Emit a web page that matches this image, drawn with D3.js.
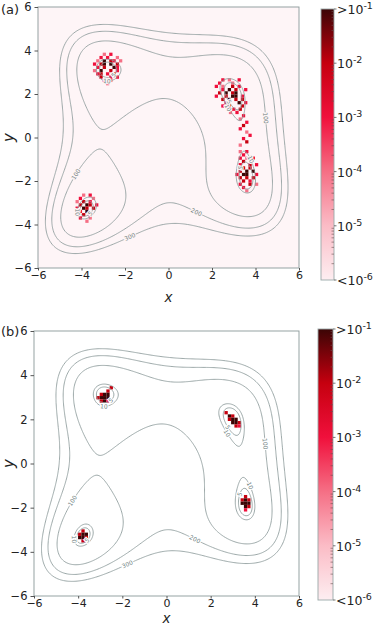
<!DOCTYPE html>
<head>
  <meta charset="utf-8">
  <script src="https://cdn.jsdelivr.net/npm/d3@7"></script>
  <style>
    body { margin:0; background:#fff; }
    text { font-family: "DejaVu Sans", sans-serif; }
  </style>
</head>
<body>
<script>
const W = 374, H = 625;

// ---- data ----------------------------------------------------------
const axisTicks = [-6, -4, -2, 0, 2, 4, 6];
const contourLevels = [5, 10, 100, 200, 300];
// [level, x, y] where matplotlib put the inline labels
const contourLabels = [
  [100, 4.52, 0.9], [100, -4.28, -1.68], [200, 1.3, -3.4], [300, -1.78, -4.55],
  [10, -2.83, 2.66], [5, -2.55, 2.9], [10, 2.78, 1.4], [5, 2.88, 1.72],
  [10, -4.08, -3.42], [5, -3.58, -3.5], [10, 3.84, -0.98], [5, 3.32, -1.4]
];
const cbTicks = [1e-6, 1e-5, 1e-4, 1e-3, 1e-2, 1e-1];
const cbLabels = [["<10", "-6"], ["10", "-5"], ["10", "-4"], ["10", "-3"], ["10", "-2"], [">10", "-1"]];
const cbColors = ["#fdeef1", "#fbbcc6", "#f56f85", "#f0103c", "#c6000f", "#3b0505"];

const cellSize = 0.15;
// histogram cells, one char per cell: digit d -> density 10^(d-7), "." = empty
const clustersA = [
  {cx: -2.8, cy: 3.15, rows: [
    "...3.4...",
    "..4.4..3.",
    ".3.6.54.3",
    "4.56.6.5.",
    ".4.5..64.",
    "3.6..5.4.",
    ".45.4.5..",
    "..5..4.4.",
    "...4.3...",
    "....3...."]},
  {cx: 2.95, cy: 2.05, rows: [
    "..4.3..4...",
    ".4...3.....",
    "4.3..5.4...",
    "..4.6.5..4.",
    ".5.6.56....",
    "4..5.66.4..",
    "..5.6.5.5..",
    "...5...6.4.",
    "..4.5...5.."]},
  {cx: 3.6, cy: -1.55, rows: [
    ".3.4...",
    "..4....",
    ".4.3.4.",
    "..5....",
    ".4..5.4",
    "..5.5..",
    ".5.6.6.",
    "4.66..4",
    ".5.5.5.",
    "..5.4..",
    ".4..5.3",
    "..4....",
    "...3..."]},
  {cx: -3.75, cy: -3.25, rows: [
    "..3.4..",
    ".4...3.",
    "3.5.4..",
    ".5.65.4",
    "4.65.5.",
    ".4.6...",
    "..5.4..",
    ".4..3..",
    "...3..."]}
];
// loose cells between the two right-hand minima in (a): [x, y, digit]
const trailA = [
  [3.0, 1.3, 4], [3.3, 1.3, 5], [2.85, 1.15, 3], [3.15, 1.15, 4], [3.45, 1.0, 4],
  [3.3, 0.85, 3], [3.6, 0.7, 4], [3.45, 0.55, 5], [3.3, 0.4, 4], [3.6, 0.25, 3],
  [3.75, 0.1, 4], [3.45, -0.05, 4], [3.6, -0.2, 5], [3.3, -0.35, 3]
];
const clustersB = [
  {cx: -2.8, cy: 3.13, rows: [
    "....5",
    "...5.",
    ".566.",
    "5666.",
    ".564."]},
  {cx: 3.0, cy: 2.0, rows: [
    "5....",
    ".65..",
    ".566.",
    "..665",
    "...54"]},
  {cx: -3.78, cy: -3.28, rows: [
    ".5.",
    "566",
    "665",
    ".54"]},
  {cx: 3.58, cy: -1.8, rows: [
    ".5.",
    "565",
    "666",
    ".65",
    ".4."]}
];
const bgDensityA = 1e-6;   // faint floor everywhere in (a)

// ---- helpers -------------------------------------------------------
const f = (x, y) => (x * x + y - 11) ** 2 + (x + y * y - 7) ** 2;
const grad = (x, y) => {
  const a = x * x + y - 11, b = x + y * y - 7;
  return [4 * x * a + 2 * b, 2 * a + 4 * y * b];
};

const color = d3.scaleLog().domain(cbTicks).range(cbColors).clamp(true);

function expandCells(clusters, extra) {
  const out = [];
  clusters.forEach(c => {
    const nr = c.rows.length, nc = c.rows[0].length;
    c.rows.forEach((row, r) => {
      row.split("").forEach((ch, k) => {
        if (ch === ".") return;
        out.push({
          x: c.cx + (k - (nc - 1) / 2) * cellSize,
          y: c.cy + ((nr - 1) / 2 - r) * cellSize,
          p: Math.pow(10, +ch - 7)
        });
      });
    });
  });
  (extra || []).forEach(d => out.push({x: d[0], y: d[1], p: Math.pow(10, d[2] - 7)}));
  return out;
}

// grid for contours (negated so level sets are closed interior rings)
const n = 241, step = 12 / (n - 1);
const values = new Array(n * n);
for (let j = 0; j < n; j++)
  for (let i = 0; i < n; i++)
    values[j * n + i] = -f(-6 + i * step, -6 + j * step);
const rings = d3.contours().size([n, n]).thresholds(contourLevels.map(l => -l))(values);

// snap a label anchor onto its level line
function snap(level, x, y) {
  for (let k = 0; k < 8; k++) {
    const g = grad(x, y), g2 = g[0] * g[0] + g[1] * g[1];
    let s = (f(x, y) - level) / g2;
    let dx = -s * g[0], dy = -s * g[1];
    const len = Math.hypot(dx, dy);
    if (len > 0.25) { dx *= 0.25 / len; dy *= 0.25 / len; }
    x += dx; y += dy;
  }
  const g = grad(x, y);
  let ang = Math.atan2(-g[0], -g[1]) * 180 / Math.PI; // tangent on screen
  if (ang > 90) ang -= 180;
  if (ang <= -90) ang += 180;
  return {x, y, ang};
}

const svg = d3.select("body").append("svg")
  .attr("width", W).attr("height", H);
const defs = svg.append("defs");

const panels = [
  {id: "a", label: "(a)", labelY: 14, x0: 38, x1: 299, y0: 7, y1: 268,
   cb: {x0: 321, x1: 334, y0: 9, y1: 280}, cells: expandCells(clustersA, trailA),
   bg: bgDensityA, xLabelY: 302, yLabelX: 14},
  {id: "b", label: "(b)", labelY: 336, x0: 34, x1: 299, y0: 331, y1: 596,
   cb: {x0: 318, x1: 333, y0: 329, y1: 600}, cells: expandCells(clustersB),
   bg: null, xLabelY: 622.5, yLabelX: 14}
];

// shared colorbar gradient
const grd = defs.append("linearGradient").attr("id", "cbgrad")
  .attr("x1", 0).attr("x2", 0).attr("y1", 0).attr("y2", 1);
d3.range(0, 1.0001, 0.02).forEach(t => {
  grd.append("stop").attr("offset", t).attr("stop-color", color(Math.pow(10, -1 - 5 * t)));
});

panels.forEach(P => {
  const xs = d3.scaleLinear().domain([-6, 6]).range([P.x0, P.x1]);
  const ys = d3.scaleLinear().domain([-6, 6]).range([P.y1, P.y0]);
  const bgCol = P.bg ? "#fef5f6" : "#fff";

  defs.append("clipPath").attr("id", "clip" + P.id).append("rect")
    .attr("x", P.x0).attr("y", P.y0).attr("width", P.x1 - P.x0).attr("height", P.y1 - P.y0);

  const g = svg.append("g").attr("clip-path", `url(#clip${P.id})`);

  if (P.bg) {
    g.append("rect").attr("x", xs(-6)).attr("y", ys(6))
      .attr("width", xs(6) - xs(-6)).attr("height", ys(-6) - ys(6))
      .attr("fill", color(P.bg)).attr("fill-opacity", 0.6);
  }

  const h = cellSize / 2;
  g.selectAll("rect.cell").data(P.cells).join("rect").attr("class", "cell")
    .attr("x", d => xs(d.x - h)).attr("y", d => ys(d.y + h))
    .attr("width", d => xs(d.x + h) - xs(d.x - h))
    .attr("height", d => ys(d.y - h) - ys(d.y + h))
    .attr("fill", d => color(d.p));

  const tr = d3.geoTransform({
    point(x, y) { this.stream.point(xs(-6 + (x - 0.5) * step), ys(-6 + (y - 0.5) * step)); }
  });
  g.selectAll("path.ct").data(rings).join("path").attr("class", "ct")
    .attr("d", d3.geoPath(tr))
    .attr("fill", "none").attr("stroke", "#8b9a9a").attr("stroke-width", 0.85);

  g.selectAll("text.cl").data(contourLabels.map(d => Object.assign(snap(d[0], d[1], d[2]), {lv: d[0]})))
    .join("text").attr("class", "cl")
    .attr("transform", d => `translate(${xs(d.x)},${ys(d.y)}) rotate(${d.ang})`)
    .attr("text-anchor", "middle").attr("dy", "0.35em")
    .attr("font-size", 6).attr("fill", "#6f7f7f")
    .attr("stroke", bgCol).attr("stroke-width", 2.2).attr("paint-order", "stroke")
    .text(d => d.lv);

  // frame + axes
  svg.append("rect").attr("x", P.x0).attr("y", P.y0)
    .attr("width", P.x1 - P.x0).attr("height", P.y1 - P.y0)
    .attr("fill", "none").attr("stroke", "#8a9999").attr("stroke-width", 0.9);

  const fmt = d3.format("d");
  const ax = svg.append("g").attr("transform", `translate(0,${P.y1})`)
    .call(d3.axisBottom(xs).tickValues(axisTicks).tickSize(2.5).tickPadding(1).tickFormat(fmt));
  const ay = svg.append("g").attr("transform", `translate(${P.x0},0)`)
    .call(d3.axisLeft(ys).tickValues(axisTicks).tickSize(3.5).tickFormat(fmt));
  [ax, ay].forEach(a => {
    a.select(".domain").remove();
    a.selectAll("line").attr("stroke", "#555");
    a.selectAll("text").attr("font-size", 11.5).attr("fill", "#222")
      .attr("font-family", "DejaVu Sans, sans-serif");
  });
  ax.selectAll("text").attr("font-size", 11);

  svg.append("text").attr("x", (P.x0 + P.x1) / 2).attr("y", P.xLabelY)
    .attr("text-anchor", "middle").attr("font-family", "Liberation Serif, serif")
    .attr("font-style", "italic").attr("font-size", 13.5).attr("fill", "#222").text("x");
  svg.append("text")
    .attr("transform", `translate(${P.yLabelX},${(P.y0 + P.y1) / 2}) rotate(-90)`)
    .attr("text-anchor", "middle").attr("font-family", "Liberation Serif, serif")
    .attr("font-style", "italic").attr("font-size", 15).attr("fill", "#222").text("y");

  svg.append("text").attr("x", 1).attr("y", P.labelY)
    .attr("font-size", 13).attr("fill", "#222").text(P.label);

  // colorbar
  const cb = P.cb;
  const cs = d3.scaleLog().domain([1e-6, 1e-1]).range([cb.y1, cb.y0]);
  svg.append("rect").attr("x", cb.x0).attr("y", cb.y0)
    .attr("width", cb.x1 - cb.x0).attr("height", cb.y1 - cb.y0)
    .attr("fill", "url(#cbgrad)").attr("stroke", "#9aa8a8").attr("stroke-width", 0.9);

  const minor = [];
  for (let e = -6; e < -1; e++) for (let m = 2; m <= 9; m++) minor.push(m * Math.pow(10, e));
  svg.append("g").selectAll("line").data(minor).join("line")
    .attr("x1", cb.x1 - 2.5).attr("x2", cb.x1)
    .attr("y1", d => cs(d)).attr("y2", d => cs(d))
    .attr("stroke", "#6a5050").attr("stroke-width", 0.6);
  svg.append("g").selectAll("line").data(cbTicks).join("line")
    .attr("x1", cb.x1).attr("x2", cb.x1 + 2.5)
    .attr("y1", d => cs(d)).attr("y2", d => cs(d))
    .attr("stroke", "#555").attr("stroke-width", 0.8);

  const tl = svg.append("g").selectAll("text").data(cbTicks).join("text")
    .attr("x", cb.x1 + 3).attr("y", d => cs(d) + 5)
    .attr("font-family", "Open Sans, sans-serif").attr("font-size", 12.5).attr("fill", "#222");
  tl.append("tspan").text((d, i) => cbLabels[i][0]);
  tl.append("tspan").attr("dy", -5).attr("font-size", 9.5).text((d, i) => cbLabels[i][1]);
});
</script>
</body>
